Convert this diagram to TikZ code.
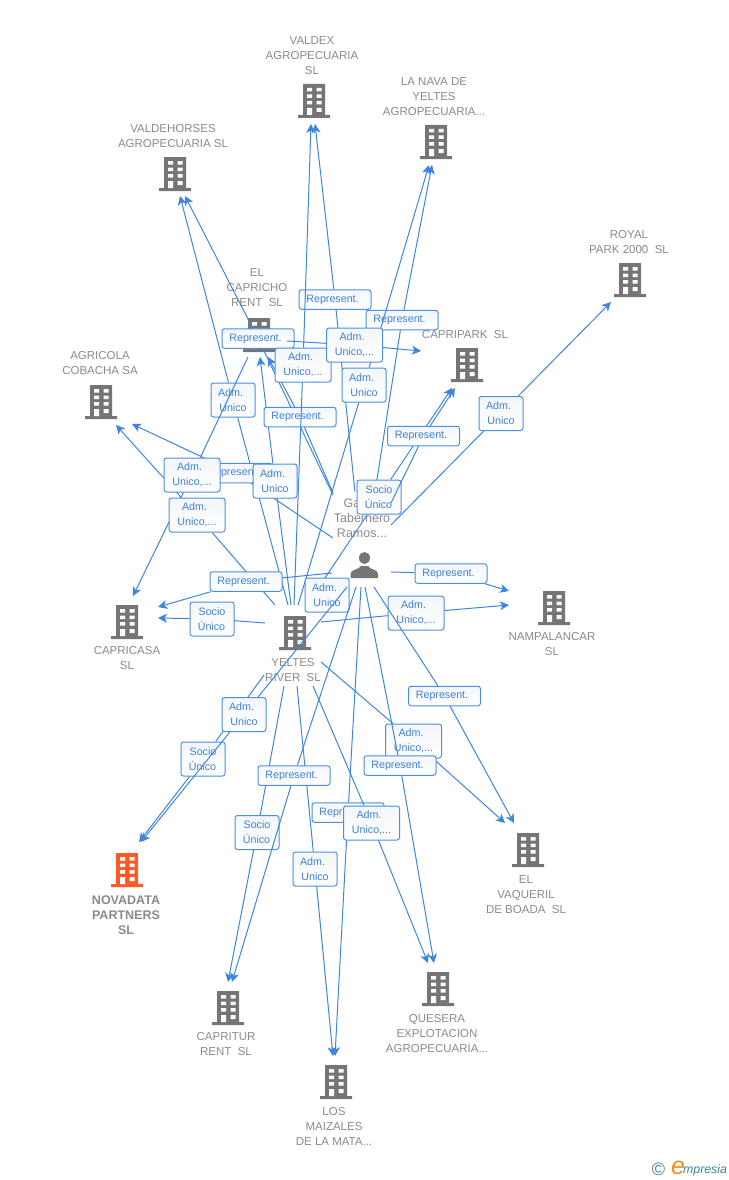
\documentclass[tikz,border=0pt]{standalone}
\usepackage{fontspec}
\setmainfont{Liberation Sans}
\usepackage{xcolor}
\usetikzlibrary{arrows.meta,positioning,calc}
\pgfdeclarelayer{bg}
\pgfsetlayers{bg,main}
\definecolor{linkblue}{HTML}{3D85E0}
\definecolor{boxblue}{HTML}{4A8FE3}
\definecolor{textblue}{HTML}{3E80D8}
\definecolor{boxshade}{HTML}{F3F6FA}
\definecolor{icongray}{HTML}{757575}
\definecolor{namegray}{HTML}{8A8A8A}
\definecolor{novaorange}{HTML}{FF5A26}
\definecolor{brandteal}{HTML}{3F7F9C}
\definecolor{brandorange}{HTML}{F58A1F}
\tikzset{
  company/.style={minimum width = 32pt, minimum height = 34pt, inner sep = 0pt, path picture = {
    \begin{scope}[shift = {(path picture bounding box.center)}]
    \fill[#1] (-16,14) rectangle (16,17) (-11,-17) rectangle (11,14);
    \fill[white] (-7,-13) rectangle (-2,-9.5) (2.5,-13) rectangle (7.5,-9.5)
      (-7,-6.5) rectangle (-2,-3) (2.5,-6.5) rectangle (7.5,-3)
      (-7,0) rectangle (-2,3.5) (2.5,0) rectangle (7.5,3.5)
      (-7,7) rectangle (-2,14) (2.5,7) rectangle (7.5,11);
    \end{scope}}},
  company/.default = icongray,
  hub/.style={minimum width = 30pt, minimum height = 30pt, inner sep = 0pt, path picture = {
    \begin{scope}[shift = {(path picture bounding box.center)}]
    \fill[icongray] (0.5,-8) ellipse (5.5 and 6);
    \fill[icongray] (-13.5,12) -- (-13.5,8) .. controls (-13.5,3) and (-5,4) .. (-3,0) -- (4,0)
      .. controls (6,4) and (14,3) .. (14,8) -- (14,12) -- cycle;
    \end{scope}}},
  tag/.style={align = center, inner sep = 0pt, text = namegray, font = \fontsize{11.5}{15}\selectfont},
  role/.style={draw = boxblue, line width = 1pt, rounded corners = 2.5pt, top color = boxshade, bottom color = white,
    inner sep = 0pt, align = center, text = textblue, font = \fontsize{10.7}{15}\selectfont,
    execute at begin node = \vspace*{2.5pt}},
  rep/.style={role, minimum width = 72pt, minimum height = 19.5pt},
  adm/.style={role, minimum width = 44pt, minimum height = 34pt},
  admlong/.style={role, minimum width = 56pt, minimum height = 34pt},
  link/.style={draw = linkblue, line width = 1pt, -{Stealth[length = 9pt, width = 9pt, inset = 2.5pt]}}
}
\newcommand\repname{Represent.\hspace*{5pt}}
\newcommand\admname{Adm.\hspace*{5pt}\\Unico}
\newcommand\admlongname{Adm.\hspace*{5pt}\\Unico,...}
\newcommand\socioname{Socio\\Único\hspace*{1pt}}
\begin{document}
\begin{tikzpicture}[x = 1pt, y = -1pt]
\useasboundingbox (0,0) rectangle (728,1180);
% companies
\node[company] (valdex) at (314,101) {};
\node[company] (lanava) at (436,142) {};
\node[company] (valdehorses) at (175,174) {};
\node[company] (royalpark) at (630,280) {};
\node[company] (capripark) at (467,365) {};
\node[company] (agricola) at (101,402) {};
\node[company] (capricho) at (259,335) {};
\node[company] (capricasa) at (127,622) {};
\node[company] (nampalancar) at (554,608) {};
\node[company] (yeltes) at (295,633) {};
\node[company = novaorange] (novadata) at (127,870) {};
\node[company] (vaqueril) at (528,850) {};
\node[company] (capritur) at (228,1008) {};
\node[company] (quesera) at (438,989) {};
\node[company] (maizales) at (336,1082) {};
\node[hub] (gabriel) at (364,566) {};
% names
\node[tag] (valdexname) at (312,56) {VALDEX\\AGROPECUARIA\\SL};
\node[tag] (lanavaname) at (434,97) {LA NAVA DE\\YELTES\\AGROPECUARIA...};
\node[tag] (valdehorsesname) at (173,136.5) {VALDEHORSES\\AGROPECUARIA SL};
\node[tag] (royalname) at (629,242.5) {ROYAL\\PARK 2000\ \ SL};
\node[tag] (capriparkname) at (465,334.5) {CAPRIPARK\ \ SL};
\node[tag] (agricolaname) at (100,363.5) {AGRICOLA\\COBACHA SA};
\node[tag] (caprichoname) at (257,288) {EL\\CAPRICHO\\RENT\ \ SL};
\node[tag] (capricasaname) at (127,658.5) {CAPRICASA\\SL};
\node[tag] (nampalancarname) at (552,644.5) {NAMPALANCAR\\SL};
\node[tag] (yeltesname) at (293,670.5) {YELTES\\RIVER\ \ SL};
\node[tag, font = \fontsize{12.5}{15}\selectfont\bfseries] (novadataname) at (126,915) {NOVADATA\\PARTNERS\\SL};
\node[tag] (vaquerilname) at (526,895) {EL\\VAQUERIL\\DE BOADA\ \ SL};
\node[tag] (capriturname) at (226,1044.5) {CAPRITUR\\RENT\ \ SL};
\node[tag] (queseraname) at (437,1034) {QUESERA\\EXPLOTACION\\AGROPECUARIA...};
\node[tag] (maizalesname) at (334,1126) {LOS\\MAIZALES\\DE LA MATA...};
\node[tag, font = \fontsize{12.5}{15}\selectfont] (gabrielname) at (362,518) {Ga\hspace*{20pt}\\Tabernero\\Ramos...};
% the two boxes on the left lie over these links
\node[admlong] (admagricola) at (197,515) {\admlongname};
\node[admlong] (admcapricasa) at (192,475) {\admlongname};
\begin{pgfonlayer}{bg}
\node[adm] (admvaldehorses) at (233,400) {\admname};
\draw[link] ([shift = {(-7,-28)}]yeltes.center) -- (admvaldehorses) -- ([shift = {(5,22)}]valdehorses.center);
\draw[link] ([shift = {(-11,22)}]capricho.center) -- (admcapricasa) -- ([shift = {(6,-26)}]capricasa.center);
\node[rep] (repagricola) at (236,473) {\repname};
\draw[link] ([shift = {(-31,-28)}]gabriel.center) -- (repagricola) -- ([shift = {(31,22)}]agricola.center);
\draw[link] ([shift = {(-20,-28)}]yeltes.center) -- (admagricola) -- ([shift = {(15,23)}]agricola.center);
\end{pgfonlayer}
% links to the upper companies
\node[rep] (repvaldehorses) at (258,338.5) {\repname};
\draw[link] ([shift = {(-31,-71)}]gabriel.center) -- (repvaldehorses) -- ([shift = {(10,22)}]valdehorses.center);
\node[adm] (admcapricho) at (275,481) {\admname};
\draw[link] ([shift = {(-4,-28)}]yeltes.center) -- (admcapricho) -- ([shift = {(1,22)}]capricho.center);
\node[rep] (repcapricho) at (300,417) {\repname};
\draw[link] ([shift = {(-31,-73)}]gabriel.center) -- (repcapricho) -- ([shift = {(9,22)}]capricho.center);
\node[rep] (repvaldex) at (335,299.5) {\repname};
\draw[link] ([shift = {(-9,-74)}]gabriel.center) -- (repvaldex) -- ([shift = {(1,23)}]valdex.center);
\node[admlong] (admvaldex) at (303,365) {\admlongname};
\draw[link] ([shift = {(-1,-28)}]yeltes.center) -- (admvaldex) -- ([shift = {(-3,23)}]valdex.center);
\node[rep] (replanava) at (402,320) {\repname};
\draw[link] ([shift = {(11,-74)}]gabriel.center) -- (replanava) -- ([shift = {(-4,23)}]lanava.center);
\node[adm] (admlanava) at (364,385) {\admname};
\draw[link] ([shift = {(3,-28)}]yeltes.center) -- (admlanava) -- ([shift = {(-7,23)}]lanava.center);
\node[admlong] (admcaprichopark) at (354.5,345) {\admlongname};
\draw[link] ([shift = {(28,6)}]capricho.center) -- (admcaprichopark) -- ([shift = {(-46,-14)}]capripark.center);
\node[adm] (socpark) at (379,497) {\socioname};
\draw[link] ([shift = {(12,-28)}]yeltes.center) -- (socpark) -- ([shift = {(-15,23)}]capripark.center);
\node[rep] (reppark) at (423.5,436) {\repname};
\draw[link] ([shift = {(27,-63)}]gabriel.center) -- (reppark) -- ([shift = {(-12,23)}]capripark.center);
\node[adm] (admroyal) at (501,413.5) {\admname};
\draw[link] ([shift = {(27,-41)}]gabriel.center) -- (admroyal) -- ([shift = {(-19,22)}]royalpark.center);
% links to the left and right
\node[rep] (repcapricasa) at (246,581.5) {\repname};
\draw[link] ([shift = {(-32,7)}]gabriel.center) -- (repcapricasa) -- ([shift = {(31,-15)}]capricasa.center);
\node[adm] (soccapricasa) at (212,619) {\socioname};
\draw[link] ([shift = {(-30,-10)}]yeltes.center) -- (soccapricasa) -- ([shift = {(31,-4)}]capricasa.center);
\node[adm] (admyeltes) at (327,595) {\admname};
\node[rep] (repnampa) at (451,573.5) {\repname};
\draw[link] ([shift = {(27,6)}]gabriel.center) -- (repnampa) -- ([shift = {(-45,-17)}]nampalancar.center);
\node[admlong] (admnampa) at (416,613) {\admlongname};
\draw[link] ([shift = {(26,-11)}]yeltes.center) -- (admnampa) -- ([shift = {(-45,-3)}]nampalancar.center);
% links to the lower companies
\node[adm] (socnovadata) at (203,759) {\socioname};
\draw[link] ([shift = {(-31,42)}]yeltes.center) -- (socnovadata) -- ([shift = {(12,-28)}]novadata.center);
\node[adm] (admnovadata) at (244,714.5) {\admname};
\draw[link] ([shift = {(-17,21)}]gabriel.center) -- (admnovadata) -- ([shift = {(14,-28)}]novadata.center);
\node[adm] (soccapritur) at (257,832.5) {\socioname};
\draw[link] ([shift = {(-11,53)}]yeltes.center) -- (soccapritur) -- ([shift = {(0,-26)}]capritur.center);
\node[adm] (admmaizales) at (315,869) {\admname};
\draw[link] ([shift = {(2,53)}]yeltes.center) -- (admmaizales) -- ([shift = {(-3,-26)}]maizales.center);
\node[rep] (repcapritur) at (294,775.5) {\repname};
\draw[link] ([shift = {(-8,21)}]gabriel.center) -- (repcapritur) -- ([shift = {(4,-26)}]capritur.center);
\node[rep] (repmaizales) at (348,812.5) {\repname};
\draw[link] ([shift = {(-3,21)}]gabriel.center) -- (repmaizales) -- ([shift = {(-1,-26)}]maizales.center);
\node[admlong] (admquesera) at (371.5,823) {\admlongname};
\draw[link] ([shift = {(18,53)}]yeltes.center) -- (admquesera) -- ([shift = {(-10,-26)}]quesera.center);
\node[admlong] (admvaqueril) at (413.5,741) {\admlongname};
\draw[link] ([shift = {(26,29)}]yeltes.center) -- (admvaqueril) -- ([shift = {(-23,-27)}]vaqueril.center);
\node[rep] (repquesera) at (400,765.5) {\repname};
\draw[link] ([shift = {(1,21)}]gabriel.center) -- (repquesera) -- ([shift = {(-4,-26)}]quesera.center);
\node[rep] (repvaqueril) at (444.5,696) {\repname};
\draw[link] ([shift = {(10,21)}]gabriel.center) -- (repvaqueril) -- ([shift = {(-14,-27)}]vaqueril.center);
% brand
\node[inner sep = 0pt, text = brandteal, font = \fontsize{18}{18}\selectfont] (copyright) at (658.5,1169) {\textcopyright};
\node[anchor = base west, inner sep = 0pt, text = brandorange, font = \fontsize{25}{25}\selectfont\itshape] (brande) at (671,1174) {e};
\node[anchor = base west, inner sep = 0pt, text = brandteal, font = \fontsize{12.3}{15}\selectfont\itshape] (brandname) at (683,1173.5) {mpresia};
\end{tikzpicture}
\end{document}
